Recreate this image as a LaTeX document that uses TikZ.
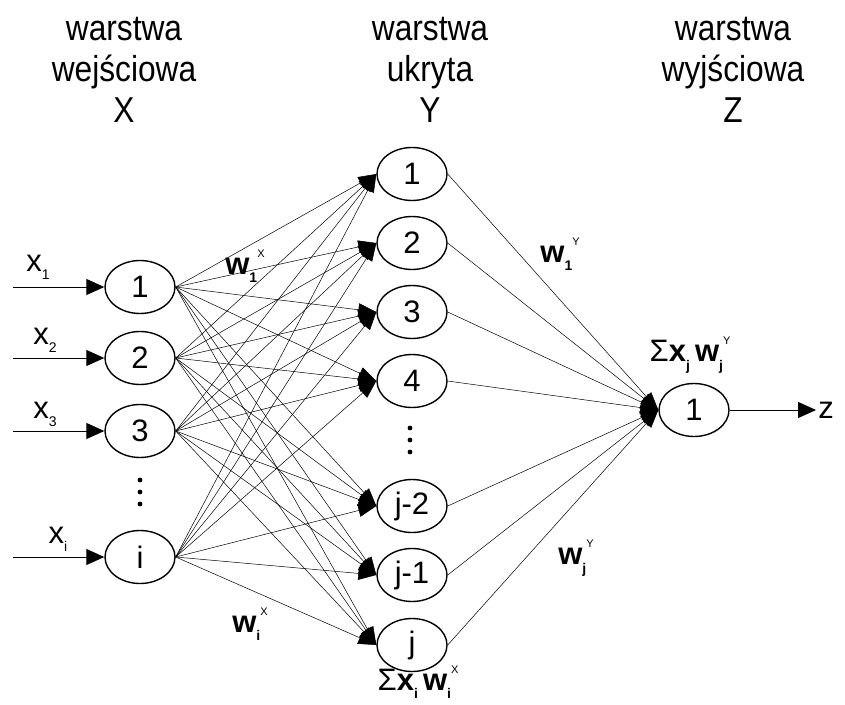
\documentclass[tikz,border=0pt]{standalone}
\usepackage{fontspec}
\setmainfont{Liberation Sans}
\usetikzlibrary{arrows.meta,shapes,positioning}

\newcommand{\lsub}[1]{\raisebox{-0.5ex}{\fontsize{14}{14}\selectfont #1}}
\newcommand{\lsup}[1]{\raisebox{1.05ex}{\fontsize{11}{11}\selectfont\mdseries #1}}

\begin{document}
\begin{tikzpicture}[x=1pt, y=-1pt,
    every node/.style={font=\fontsize{31}{31}\selectfont},
    header/.style={align=center, anchor=north, inner sep=0pt, xscale=0.88,
        font=\fontsize{36}{41}\selectfont},
    neuron/.style={draw, ellipse, line width=1.4pt, minimum width=70pt,
        minimum height=53pt, inner sep=0pt},
    syn/.style={line width=0.5pt, -{Triangle[length=18pt,width=13pt]}},
    inarr/.style={line width=0.9pt, -{Triangle[length=18pt,width=16pt]}},
    wlab/.style={font=\fontsize{31}{31}\selectfont\bfseries, inner sep=1pt},
    xlab/.style={font=\fontsize{31}{31}\selectfont, inner sep=1pt}]
    \useasboundingbox (0,0) rectangle (845,704);

    % layer captions
    \node[header] (hx) at (124,17) {warstwa\\wejściowa\\X};
    \node[header] (hy) at (430,17) {warstwa\\ukryta\\Y};
    \node[header] (hz) at (733,17) {warstwa\\wyjściowa\\Z};

    % input layer
    \node[neuron] (x1) at (140,287) {1};
    \node[neuron] (x2) at (140,358) {2};
    \node[neuron] (x3) at (140,431) {3};
    \node[neuron] (xi) at (140,557) {i};
    \foreach \y in {480,492,504} \fill (140,\y) circle (2.4);

    % hidden layer
    \node[neuron] (h1) at (412,174) {1};
    \node[neuron] (h2) at (412,243) {2};
    \node[neuron] (h3) at (412,312) {3};
    \node[neuron] (h4) at (412,381) {4};
    \node[neuron] (hj2) at (412,506) {j-2};
    \node[neuron] (hj1) at (412,575) {j-1};
    \node[neuron] (hj) at (412,645) {j};
    \foreach \y in {428,440,452} \fill (410,\y) circle (2.4);

    % output layer
    \node[neuron] (out) at (694,410) {1};

    % inputs
    \foreach \n/\y in {x1/287,x2/358,x3/431,xi/557} {
        \coordinate (s\n) at (13,\y);
        \draw[inarr] (s\n) -- (\n);
    }
    \node[xlab] (lx1) at (38,267) {x\lsub{1}};
    \node[xlab] (lx2) at (45,340) {x\lsub{2}};
    \node[xlab] (lx3) at (45,414) {x\lsub{3}};
    \node[xlab] (lxi) at (58,539) {x\lsub{i}};

    % weights input -> hidden
    \foreach \a in {x1,x2,x3,xi}
        \foreach \b in {h1,h2,h3,h4,hj2,hj1,hj}
            \draw[syn] (\a.east) -- (\b.west);

    % weights hidden -> output
    \foreach \b in {h1,h2,h3,h4,hj2,hj1,hj}
        \draw[syn] (\b.east) -- (out.west);

    % output
    \node[xlab, inner sep=2pt] (z) at (826,410) {z};
    \draw[inarr] (out) -- (z);

    % weight labels
    \node[wlab] (w1x) at (245,266) {w\lsub{1}\lsup{X}};
    \node[wlab] (wix) at (250,624) {w\lsub{i}\lsup{X}};
    \node[wlab] (w1y) at (560,254) {w\lsub{1}\lsup{Y}};
    \node[wlab] (wjy) at (576,558) {w\lsub{j}\lsup{Y}};
    \node[wlab] (sumx) at (418,682) {\textmd{Σ}x\lsub{i}\,w\lsub{i}\lsup{X}};
    \node[wlab] (sumy) at (690,355) {\textmd{Σ}x\lsub{j}\,w\lsub{j}\lsup{Y}};
\end{tikzpicture}
\end{document}
